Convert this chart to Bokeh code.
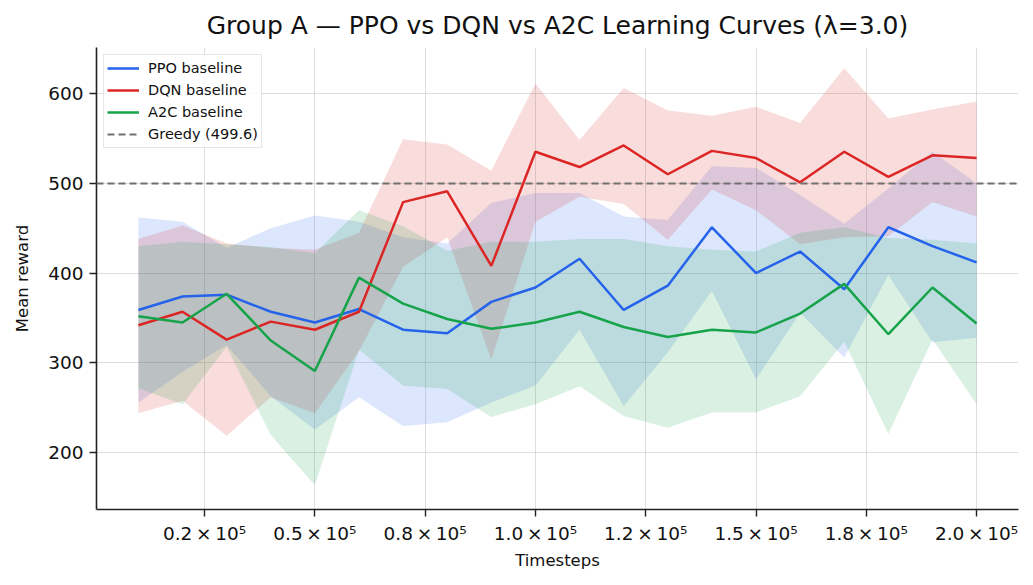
from bokeh.plotting import figure
from bokeh.models import Range1d, FixedTicker, Span, Legend, LegendItem
from bokeh.embed import file_html
from bokeh.resources import INLINE

# ---------------- data ----------------
steps = [10000, 20000, 30000, 40000, 50000, 60000, 70000, 80000, 90000, 100000,
         110000, 120000, 130000, 140000, 150000, 160000, 170000, 180000, 190000, 200000]

ppo_mean = [359, 374, 376, 357, 345, 360, 337, 333, 368, 384, 416, 359, 386, 451, 400, 424, 382, 451, 430, 412]
ppo_lo = [256, 290, 320, 263, 226, 262, 230, 234, 256, 275, 337, 252, 312, 380, 282, 356, 306, 398, 323, 328]
ppo_hi = [462, 457, 428, 450, 464, 457, 440, 433, 478, 489, 489, 463, 459, 519, 517, 487, 455, 494, 535, 500]

dqn_mean = [342, 357, 326, 346, 337, 357, 479, 491, 408, 535, 518, 542, 510, 536, 528, 501, 535, 507, 531, 528]
dqn_lo = [244, 258, 219, 262, 244, 313, 407, 440, 304, 457, 485, 477, 437, 493, 470, 432, 440, 441, 479, 463]
dqn_hi = [438, 453, 433, 428, 426, 445, 549, 543, 514, 611, 548, 606, 581, 575, 585, 567, 628, 572, 582, 591]

a2c_mean = [352, 345, 377, 325, 291, 395, 366, 349, 338, 345, 357, 340, 329, 337, 334, 355, 388, 332, 384, 344]
a2c_lo = [272, 254, 318, 220, 164, 315, 275, 271, 240, 254, 274, 241, 228, 245, 245, 263, 324, 221, 326, 254]
a2c_hi = [430, 435, 432, 429, 422, 470, 452, 425, 435, 435, 438, 438, 430, 426, 424, 445, 451, 439, 437, 433]

greedy_value = 499.6

series_names = ["PPO baseline", "DQN baseline", "A2C baseline"]
greedy_label = "Greedy (499.6)"

x_ticks = [25000, 50000, 75000, 100000, 125000, 150000, 175000, 200000]
x_tick_labels = ["0.2\u2009×\u200910⁵", "0.5\u2009×\u200910⁵", "0.8\u2009×\u200910⁵", "1.0\u2009×\u200910⁵",
                 "1.2\u2009×\u200910⁵", "1.5\u2009×\u200910⁵", "1.8\u2009×\u200910⁵", "2.0\u2009×\u200910⁵"]
y_ticks = [200, 300, 400, 500, 600]

title_text = "Group A — PPO vs DQN vs A2C Learning Curves (λ=3.0)"

# ---------------- styling ----------------
FONT = "DejaVu Sans"
BLUE = "#2563eb"
RED = "#dc2626"
GREEN = "#16a34a"
GRAY = "#707070"

p = figure(width=1026, height=577, output_backend="svg", toolbar_location=None,
           x_range=Range1d(500, 209500), y_range=Range1d(137, 651),
           min_border_left=96, min_border_right=8, min_border_top=47, min_border_bottom=68)

p.outline_line_color = None
p.background_fill_color = "white"

p.title.text = title_text
p.title.align = "center"
p.title.text_font = FONT
p.title.text_font_size = "25px"
p.title.text_font_style = "normal"
p.title.text_color = "#111111"
p.title.standoff = 15

# bands
bands = [(ppo_lo, ppo_hi, BLUE), (dqn_lo, dqn_hi, RED), (a2c_lo, a2c_hi, GREEN)]
for lo, hi, c in bands:
    p.varea(x=steps, y1=lo, y2=hi, fill_color=c, fill_alpha=0.16)

# lines
r_ppo = p.line(steps, ppo_mean, line_color=BLUE, line_width=2.5)
r_dqn = p.line(steps, dqn_mean, line_color=RED, line_width=2.5)
r_a2c = p.line(steps, a2c_mean, line_color=GREEN, line_width=2.5)

greedy = Span(location=greedy_value, dimension="width", line_color=GRAY,
              line_dash="7 4", line_width=2)
p.add_layout(greedy)
# single-point renderer (draws nothing) used only for the legend entry
r_greedy = p.line([steps[0]], [greedy_value], line_color=GRAY, line_dash="7 4", line_width=2)

# axes
for ax in (p.xaxis[0], p.yaxis[0]):
    ax.axis_line_color = "#222222"
    ax.axis_line_width = 1.6
    ax.major_tick_line_color = "#222222"
    ax.major_tick_line_width = 1.4
    ax.major_tick_out = 7
    ax.major_tick_in = 0
    ax.minor_tick_out = 0
    ax.minor_tick_in = 0
    ax.major_label_text_font = FONT
    ax.major_label_text_font_size = "18.5px"
    ax.major_label_text_color = "#111111"
    ax.axis_label_text_font = FONT
    ax.axis_label_text_font_size = "16.5px"
    ax.axis_label_text_font_style = "normal"
    ax.axis_label_text_color = "#111111"

p.xaxis.ticker = FixedTicker(ticks=x_ticks)
p.xaxis.major_label_overrides = {t: lab for t, lab in zip(x_ticks, x_tick_labels)}
p.xaxis.major_label_standoff = 6
p.xaxis.axis_label = "Timesteps"
p.xaxis.axis_label_standoff = 4

p.yaxis.ticker = FixedTicker(ticks=y_ticks)
p.yaxis.major_label_standoff = 6
p.yaxis.axis_label = "Mean reward"
p.yaxis.axis_label_standoff = 13

p.xgrid.grid_line_color = "#c8c8c8"
p.ygrid.grid_line_color = "#c8c8c8"
p.xgrid.grid_line_alpha = 0.6
p.ygrid.grid_line_alpha = 0.6

legend = Legend(items=[
    LegendItem(label=series_names[0], renderers=[r_ppo]),
    LegendItem(label=series_names[1], renderers=[r_dqn]),
    LegendItem(label=series_names[2], renderers=[r_a2c]),
    LegendItem(label=greedy_label, renderers=[r_greedy]),
], location="top_left")
legend.label_text_font = FONT
legend.label_text_font_size = "14.5px"
legend.label_text_color = "#111111"
legend.glyph_width = 32
legend.glyph_height = 20
legend.label_height = 20
legend.label_standoff = 9
legend.spacing = 2
legend.padding = 3
legend.margin = 7
legend.border_line_color = "#cccccc"
legend.border_line_width = 1
legend.background_fill_alpha = 0.85
p.add_layout(legend)

open("out.html", "w").write(file_html(p, INLINE))
